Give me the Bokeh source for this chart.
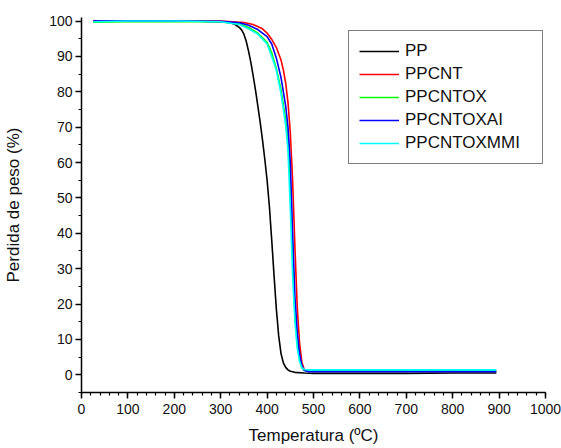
from bokeh.plotting import figure
from bokeh.models import Range1d, FixedTicker, Legend, LegendItem
from bokeh.embed import file_html
from bokeh.resources import INLINE

# Temperature grids (ºC) and weight (%)
T_PP = [25, 100, 200, 300, 320, 330, 340, 345, 350, 355, 360, 365, 370, 375, 380, 385, 390, 395,
        400, 405, 410, 415, 420, 425, 430, 435, 440, 445, 450, 460, 480, 500, 600, 700, 800, 894]
Y_PP = [100.0, 100.1, 100.1, 99.8, 99.5, 99.1, 98.2, 97.5, 96.3, 94.3, 91.5, 88.3, 84.5, 80.5, 76, 71.5, 66.5, 61,
        55, 47.5, 38, 28, 18.5, 11, 6, 3.4, 2.1, 1.4, 1.0, 0.7, 0.5, 0.4, 0.4, 0.4, 0.5, 0.5]

T_CNT = [25, 100, 200, 300, 350, 370, 390, 400, 410, 420, 430, 435, 440, 445, 450, 455, 460, 465,
         470, 475, 480, 490, 500, 600, 700, 800, 894]
Y_PPCNT = [99.9, 100.1, 100.1, 100.0, 99.6, 99.0, 97.8, 96.6, 94.8, 92.5, 89, 86.2, 82.5, 77, 68.5, 55, 36, 19,
           9, 3.5, 1.5, 1.1, 1.0, 1.0, 1.0, 1.0, 1.0]

T_OX = [25, 100, 200, 300, 340, 360, 380, 400, 410, 420, 430, 440, 445, 450, 455, 460, 465,
        470, 475, 480, 490, 500, 600, 700, 800, 894]
Y_PPCNTOX = [99.7, 99.8, 99.9, 99.8, 99.2, 98.2, 96.6, 94, 91, 86.5, 80.5, 72, 66, 53, 33, 17, 9,
             4.5, 2.0, 1.2, 1.1, 1.1, 1.1, 1.1, 1.1, 1.1]
Y_PPCNTOXAI = [100.0, 100.1, 100.0, 99.9, 99.5, 98.8, 97.6, 95.6, 93.5, 89.5, 84, 76, 70, 60, 40, 22, 12,
               6, 2.5, 1.2, 0.9, 0.9, 0.9, 0.9, 0.9, 0.9]
Y_PPCNTOXMMI = [99.8, 100.0, 100.0, 99.8, 99.0, 97.8, 96.3, 93.5, 90, 86, 79.5, 70.5, 63.5, 47, 28, 15, 7.5,
                3.8, 2.0, 1.5, 1.4, 1.4, 1.4, 1.4, 1.4, 1.4]

x_ticks = [0, 100, 200, 300, 400, 500, 600, 700, 800, 900, 1000]
y_ticks = [0, 10, 20, 30, 40, 50, 60, 70, 80, 90, 100]

series = [
    ("PP", T_PP, Y_PP, "#000000"),
    ("PPCNT", T_CNT, Y_PPCNT, "#FF0000"),
    ("PPCNTOX", T_OX, Y_PPCNTOX, "#00FF00"),
    ("PPCNTOXAI", T_OX, Y_PPCNTOXAI, "#0000FF"),
    ("PPCNTOXMMI", T_OX, Y_PPCNTOXMMI, "#00FFFF"),
]

FONT = "Liberation Sans"

p = figure(width=561, height=448, output_backend="svg", toolbar_location=None,
           x_range=Range1d(0, 1000), y_range=Range1d(-5, 101),
           min_border_left=81, min_border_right=16, min_border_top=17, min_border_bottom=56,
           x_axis_label="Temperatura (ºC)", y_axis_label="Perdida de peso (%)")

p.xgrid.visible = False
p.ygrid.visible = False
p.outline_line_color = None

items = []
for name, xs, ys, col in series:
    r = p.line(xs, ys, line_color=col, line_width=1.6)
    items.append(LegendItem(label=name, renderers=[r]))

legend = Legend(items=items, location=(267, 228), border_line_color="black", border_line_width=1,
                background_fill_color="white", background_fill_alpha=1.0,
                label_text_font=FONT, label_text_font_size="17px", label_text_color="#111111",
                glyph_width=40, glyph_height=20, label_height=20, label_standoff=6,
                spacing=3, padding=10, margin=0, label_width=127)
p.add_layout(legend, "center")

p.xaxis.ticker = FixedTicker(ticks=x_ticks, minor_ticks=list(range(0, 1001, 20)))
p.yaxis.ticker = FixedTicker(ticks=y_ticks, minor_ticks=list(range(-5, 101, 5)))

for ax in (p.xaxis[0], p.yaxis[0]):
    ax.axis_line_width = 1.5
    ax.axis_line_color = "black"
    ax.major_tick_line_color = "black"
    ax.minor_tick_line_color = "black"
    ax.major_tick_line_width = 1.5
    ax.minor_tick_line_width = 1.2
    ax.major_tick_out = 6
    ax.major_tick_in = 0
    ax.minor_tick_out = 3
    ax.minor_tick_in = 0
    ax.major_label_text_font = FONT
    ax.major_label_text_font_size = "14px"
    ax.major_label_text_color = "#111111"
    ax.axis_label_text_font = FONT
    ax.axis_label_text_font_size = "17px"
    ax.axis_label_text_font_style = "normal"
    ax.axis_label_text_color = "#111111"

p.xaxis.major_label_standoff = 5
p.xaxis.axis_label_standoff = 9
p.yaxis.major_label_standoff = 3
p.yaxis.axis_label_standoff = 23

open("out.html", "w").write(file_html(p, INLINE))
